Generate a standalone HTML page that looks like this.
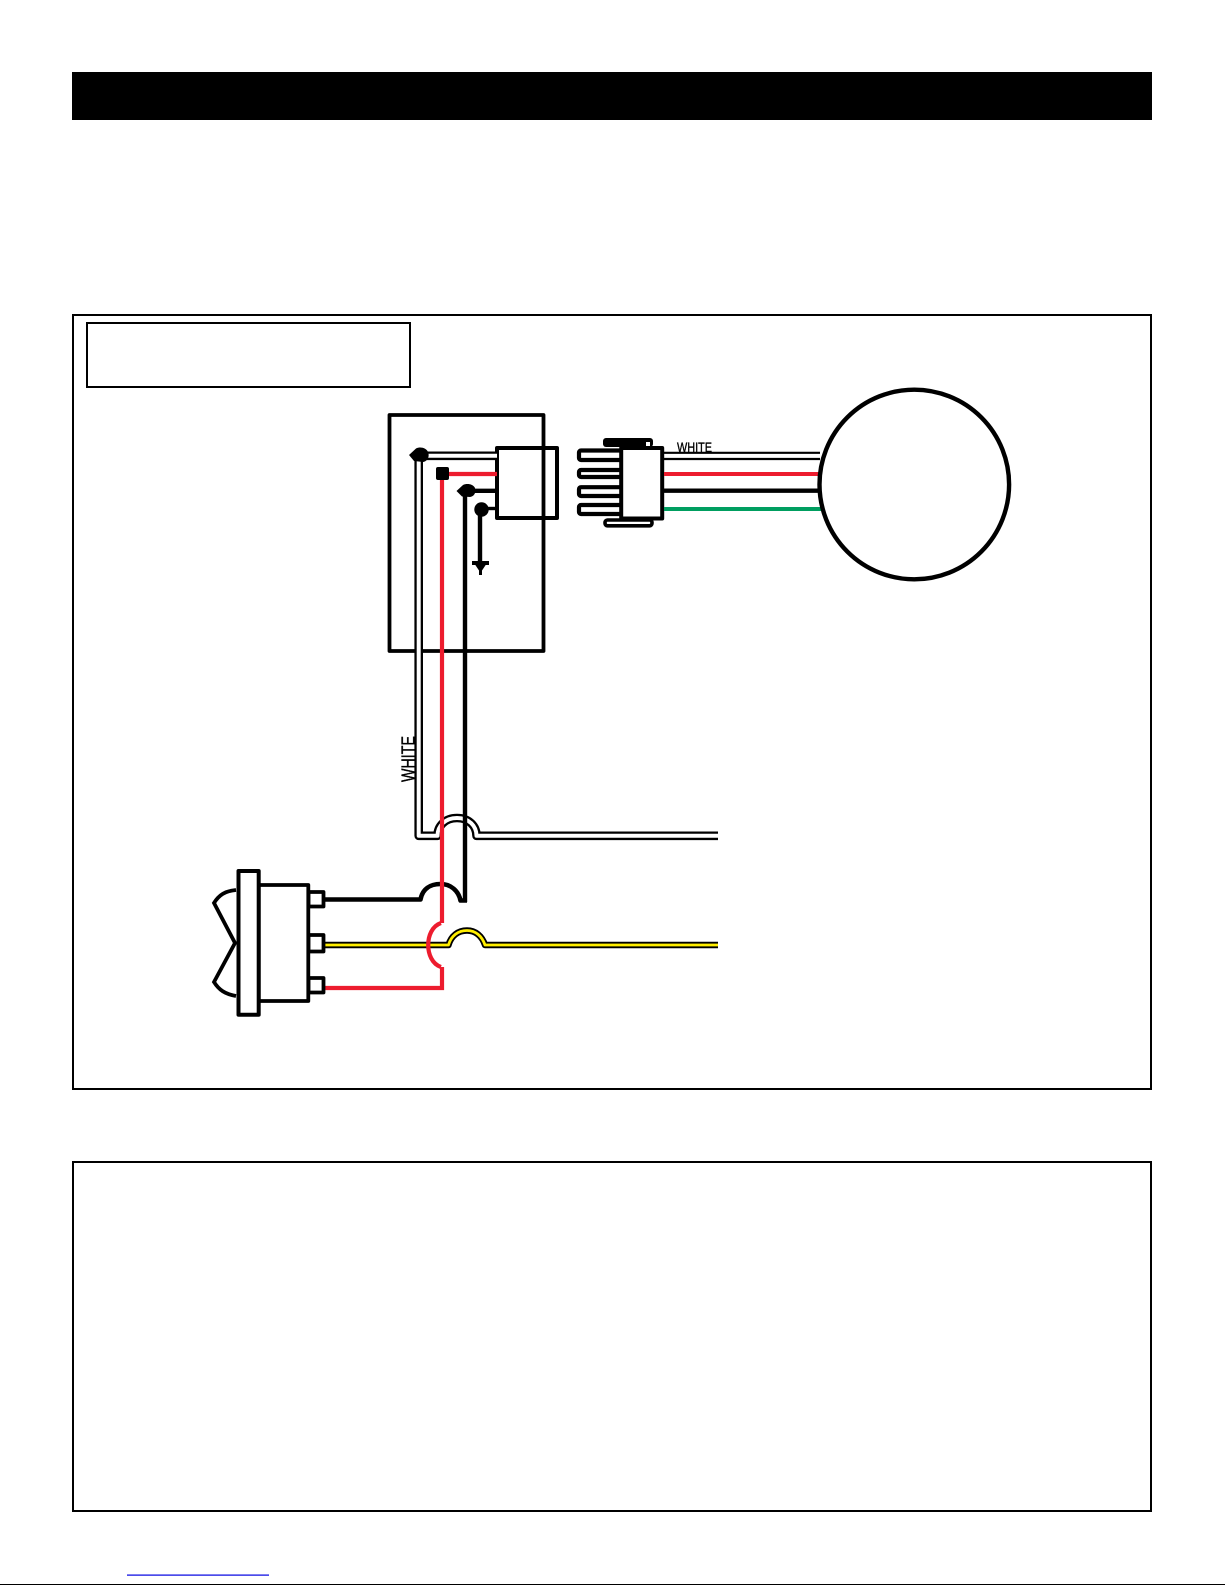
<!DOCTYPE html>
<html>
<head>
<meta charset="utf-8">
<style>
html,body{margin:0;padding:0;background:#fff;width:1225px;height:1585px;overflow:hidden}
svg{display:block}
text{font-family:"Liberation Sans",sans-serif;fill:#000;stroke:#000;stroke-width:.35}
</style>
</head>
<body>
<svg width="1225" height="1585" viewBox="0 0 1225 1585" xmlns="http://www.w3.org/2000/svg">
<rect x="0" y="0" width="1225" height="1585" fill="#fff"/>
<!-- header -->
<rect x="72" y="72" width="1080" height="48" fill="#000"/>
<!-- frames -->
<rect x="73" y="315" width="1078" height="774" fill="none" stroke="#000" stroke-width="2"/>
<rect x="87" y="323" width="323" height="64" fill="none" stroke="#000" stroke-width="2"/>
<rect x="73" y="1162" width="1078" height="349" fill="none" stroke="#000" stroke-width="2"/>
<!-- footer -->
<rect x="127" y="1574.5" width="142" height="1.2" fill="#0000e0"/>
<rect x="0" y="1584" width="1225" height="1" fill="#000"/>

<!-- junction box -->
<rect x="389.5" y="415" width="154" height="236" fill="none" stroke="#000" stroke-width="3.8" stroke-linejoin="round"/>
<!-- relay -->
<rect x="497" y="448" width="60" height="70" fill="none" stroke="#000" stroke-width="4" stroke-linejoin="round"/>

<!-- white wire (double line) -->
<g fill="none" stroke-linejoin="round">
<path d="M497 455.8H418.7V835.8H437.5C437.5 826 445 818 457 818C469 818 476.5 826 476.5 835.8H718" stroke="#000" stroke-width="8.6"/>
<path d="M497 455.8H418.7V835.8H437.5C437.5 826 445 818 457 818C469 818 476.5 826 476.5 835.8H718" stroke="#fff" stroke-width="4"/>
</g>

<!-- black wire -->
<path d="M465 491V902" fill="none" stroke="#000" stroke-width="4.4"/>
<path d="M470 490.8H497" fill="none" stroke="#000" stroke-width="4.4"/>
<path d="M325 899.5H420.5C422.5 889 430 884 440.5 884C451 884 458.5 891 460.5 900.5H467" fill="none" stroke="#000" stroke-width="4.6" stroke-linejoin="round"/>
<!-- ground wire -->
<path d="M481 508.5H497" stroke="#000" stroke-width="3.4" fill="none"/>
<path d="M480 509V562" stroke="#000" stroke-width="4.4" fill="none"/>
<rect x="472" y="561" width="17" height="4" fill="#000"/>
<path d="M475 564.5H486L482 570.5V575H479V570.5Z" fill="#000"/>

<!-- yellow wire -->
<g fill="none" stroke-linejoin="round">
<path d="M325 945H448.5C451 936 458 930.5 467 930.5C475.5 930.5 482 936 485 945H718" stroke="#000" stroke-width="6.4"/>
<path d="M325 945H448.5C451 936 458 930.5 467 930.5C475.5 930.5 482 936 485 945H718" stroke="#ffee00" stroke-width="2.8"/>
</g>

<!-- red wire -->
<g fill="none" stroke="#ED1C2E" stroke-width="4.2" stroke-linejoin="miter">
<path d="M497 474H442V923"/>
<path d="M441 923C432 926 428.2 936 428.2 945C428.2 954 432 964 441 967"/>
<path d="M442 967V988H325"/>
</g>

<!-- blobs -->
<path d="M409 455L416 448.5C420 446.5 426 447.5 428 452C430 457 427 461.5 423 462L414 461Z" fill="#000"/>
<path d="M456.5 491L463 485C467 483 473 484 475 488C476.5 492.5 474 496.5 470 497L462 496.5Z" fill="#000"/>
<circle cx="481.5" cy="509.5" r="7.2" fill="#000"/>
<rect x="436" y="467" width="13" height="13" rx="2" fill="#000"/>

<!-- connector -->
<g fill="#fff" stroke="#000" stroke-width="4.2" stroke-linejoin="round">
<rect x="579" y="450.5" width="44" height="9.5" rx="2"/>
<rect x="579" y="470" width="44" height="7" rx="2"/>
<rect x="579" y="487.2" width="44" height="8.8" rx="2"/>
<rect x="579" y="505" width="44" height="9" rx="2"/>
</g>
<rect x="603" y="438" width="50" height="9" rx="3" fill="#000"/>
<rect x="646" y="442" width="4" height="5" fill="#fff"/>
<rect x="605" y="520" width="47" height="5.8" rx="2.5" fill="#fff" stroke="#000" stroke-width="3.6"/>
<rect x="621.2" y="448" width="41" height="70.5" fill="#fff" stroke="#000" stroke-width="4" stroke-linejoin="round"/>

<!-- wires to motor -->
<path d="M664 452.8H820" stroke="#000" stroke-width="2.2"/>
<path d="M664 459H820" stroke="#000" stroke-width="2.2"/>
<path d="M664 474H820" stroke="#ED1C2E" stroke-width="4"/>
<path d="M664 490.7H820" stroke="#000" stroke-width="4.4"/>
<path d="M664 509H822" stroke="#009E60" stroke-width="4"/>
<!-- motor -->
<circle cx="914.3" cy="484.5" r="94.8" fill="#fff" stroke="#000" stroke-width="4.4"/>

<!-- switch -->
<path d="M236 890C225 891 219 895 214 903L235 943L214 982C219 990 225 994 236 996" fill="none" stroke="#000" stroke-width="3.8" stroke-linejoin="miter"/>
<rect x="308.5" y="892" width="15" height="14.5" fill="#fff" stroke="#000" stroke-width="3.8" stroke-linejoin="round"/>
<rect x="308.5" y="935" width="15" height="16.5" fill="#fff" stroke="#000" stroke-width="3.8" stroke-linejoin="round"/>
<rect x="308.5" y="978" width="15" height="14.5" fill="#fff" stroke="#000" stroke-width="3.8" stroke-linejoin="round"/>
<rect x="258.7" y="885" width="49.6" height="116" fill="#fff" stroke="#000" stroke-width="3.8" stroke-linejoin="round"/>
<rect x="238.5" y="871" width="20.2" height="143.7" fill="#fff" stroke="#000" stroke-width="4" stroke-linejoin="round"/>

<!-- labels -->
<text x="677" y="452" font-size="14" textLength="35" lengthAdjust="spacingAndGlyphs">WHITE</text>
<text transform="translate(414.5 782) rotate(-90)" font-size="18" textLength="46" lengthAdjust="spacingAndGlyphs">WHITE</text>
</svg>
</body>
</html>
